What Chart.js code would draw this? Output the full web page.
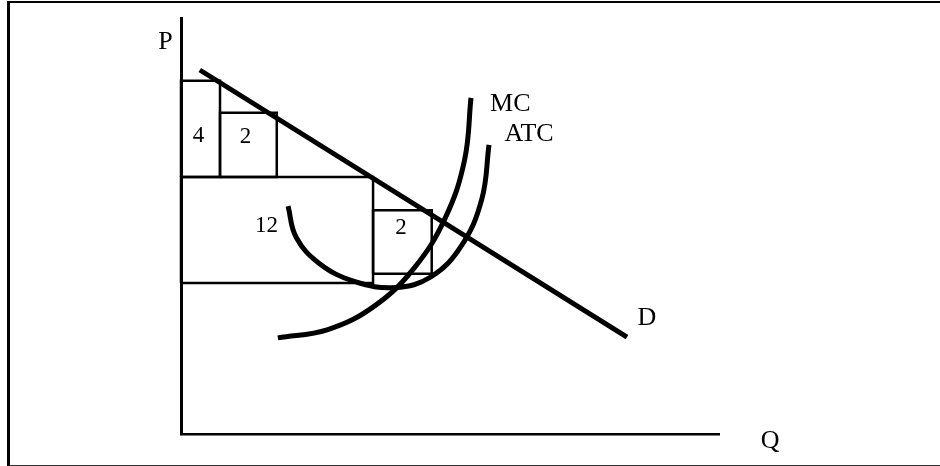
<!DOCTYPE html>
<html>
<head>
<meta charset="utf-8">
<script src="https://cdn.jsdelivr.net/npm/chart.js@4/dist/chart.umd.min.js"></script>
<style>
  html, body { margin: 0; padding: 0; background: #fff; overflow: hidden; }
  #wrap { position: relative; width: 940px; height: 466px; }
  #frame {
    position: absolute; left: 7px; top: 1px; width: 940px; height: 462px;
    border-left: 3px solid #000; border-top: 2px solid #000; border-bottom: 2px solid #333;
  }
  #chart { position: absolute; left: 0; top: 0; }
</style>
</head>
<body>
<div id="wrap">
  <div id="frame"></div>
  <canvas id="chart" width="940" height="466"></canvas>
</div>
<script>
// 수요곡선 D (직선)
const demandQ = [3.5, 82.9];
const demandP = [87.5, 23.3];

// 한계비용 MC
const mcQ = [18.0, 27.3, 36.0, 43.4, 49.1, 52.7, 53.9];
const mcP = [23.1, 25.1, 30.8, 40.0, 51.9, 65.8, 80.8];

// 평균총비용 ATC
const atcQ = [19.9, 21.4, 25.7, 32.2, 39.8, 46.5, 52.1, 55.9, 57.25];
const atcP = [54.8, 47.3, 41.0, 36.7, 35.2, 37.8, 45.2, 56.4, 69.5];

// 사각형 (이윤 영역)
const boxLeft = [0, 7.25, 0, 35.7];
const boxRight = [7.25, 17.8, 35.7, 46.6];
const boxBottom = [61.8, 61.8, 36.3, 38.5];
const boxTop = [84.9, 77.2, 61.8, 53.8];
const boxAreas = ['4', '2', '12', '2'];

function pts(xs, ys) {
    return xs.map(function(x, i) { return {x: x, y: ys[i]}; });
}

const datasets = [];

boxAreas.forEach(function(a, i) {
    datasets.push({
        label: 'box ' + a,
        data: [
            {x: boxLeft[i], y: boxBottom[i]},
            {x: boxLeft[i], y: boxTop[i]},
            {x: boxRight[i], y: boxTop[i]},
            {x: boxRight[i], y: boxBottom[i]},
            {x: boxLeft[i], y: boxBottom[i]}
        ],
        borderColor: '#000',
        borderWidth: 2.5,
        pointRadius: 0,
        tension: 0,
        showLine: true,
        fill: false
    });
});

datasets.push({
    label: 'D',
    data: pts(demandQ, demandP),
    borderColor: '#000',
    borderWidth: 5,
    pointRadius: 0,
    showLine: true
});

datasets.push({
    label: 'MC',
    data: pts(mcQ, mcP),
    borderColor: '#000',
    borderWidth: 5,
    pointRadius: 0,
    tension: 0.4,
    showLine: true
});

datasets.push({
    label: 'ATC',
    data: pts(atcQ, atcP),
    borderColor: '#000',
    borderWidth: 5,
    pointRadius: 0,
    tension: 0.4,
    showLine: true
});

// 글자 위치 (데이터 좌표)
const textMarks = [
    {t: 'P', x: -2.9, y: 94.1, size: 26},
    {t: 'Q', x: 109.5, y: -1.7, size: 26},
    {t: 'D', x: 86.6, y: 27.8, size: 26},
    {t: 'MC', x: 61.2, y: 79.3, size: 26},
    {t: 'ATC', x: 64.7, y: 72.1, size: 26},
    {t: boxAreas[0], x: 3.25, y: 71.6, size: 23},
    {t: boxAreas[1], x: 12.0, y: 71.4, size: 23},
    {t: boxAreas[2], x: 15.9, y: 50.0, size: 23},
    {t: boxAreas[3], x: 40.9, y: 49.5, size: 23}
];

const textPlugin = {
    id: 'textMarks',
    afterDatasetsDraw(chart) {
        const ctx = chart.ctx;
        const xs = chart.scales.x, ys = chart.scales.y;
        ctx.save();
        ctx.fillStyle = '#000';
        ctx.textAlign = 'center';
        ctx.textBaseline = 'middle';
        textMarks.forEach(function(m) {
            ctx.font = m.size + 'px "Liberation Serif", "DejaVu Serif", serif';
            ctx.fillText(m.t, xs.getPixelForValue(m.x), ys.getPixelForValue(m.y));
        });
        ctx.restore();
    }
};

new Chart(document.getElementById('chart').getContext('2d'), {
    type: 'scatter',
    data: { datasets: datasets },
    options: {
        responsive: false,
        animation: false,
        layout: { padding: { left: 181, top: 18, right: 221, bottom: 32 } },
        scales: {
            x: {
                type: 'linear', min: 0, max: 100,
                ticks: { display: false },
                grid: { display: false, drawTicks: false },
                border: { display: true, width: 2.5, color: '#000' }
            },
            y: {
                type: 'linear', min: 0, max: 100,
                ticks: { display: false },
                grid: { display: false, drawTicks: false },
                border: { display: true, width: 3, color: '#000' }
            }
        },
        plugins: {
            legend: { display: false },
            tooltip: { enabled: false }
        },
        clip: false
    },
    plugins: [textPlugin]
});
</script>
</body>
</html>
